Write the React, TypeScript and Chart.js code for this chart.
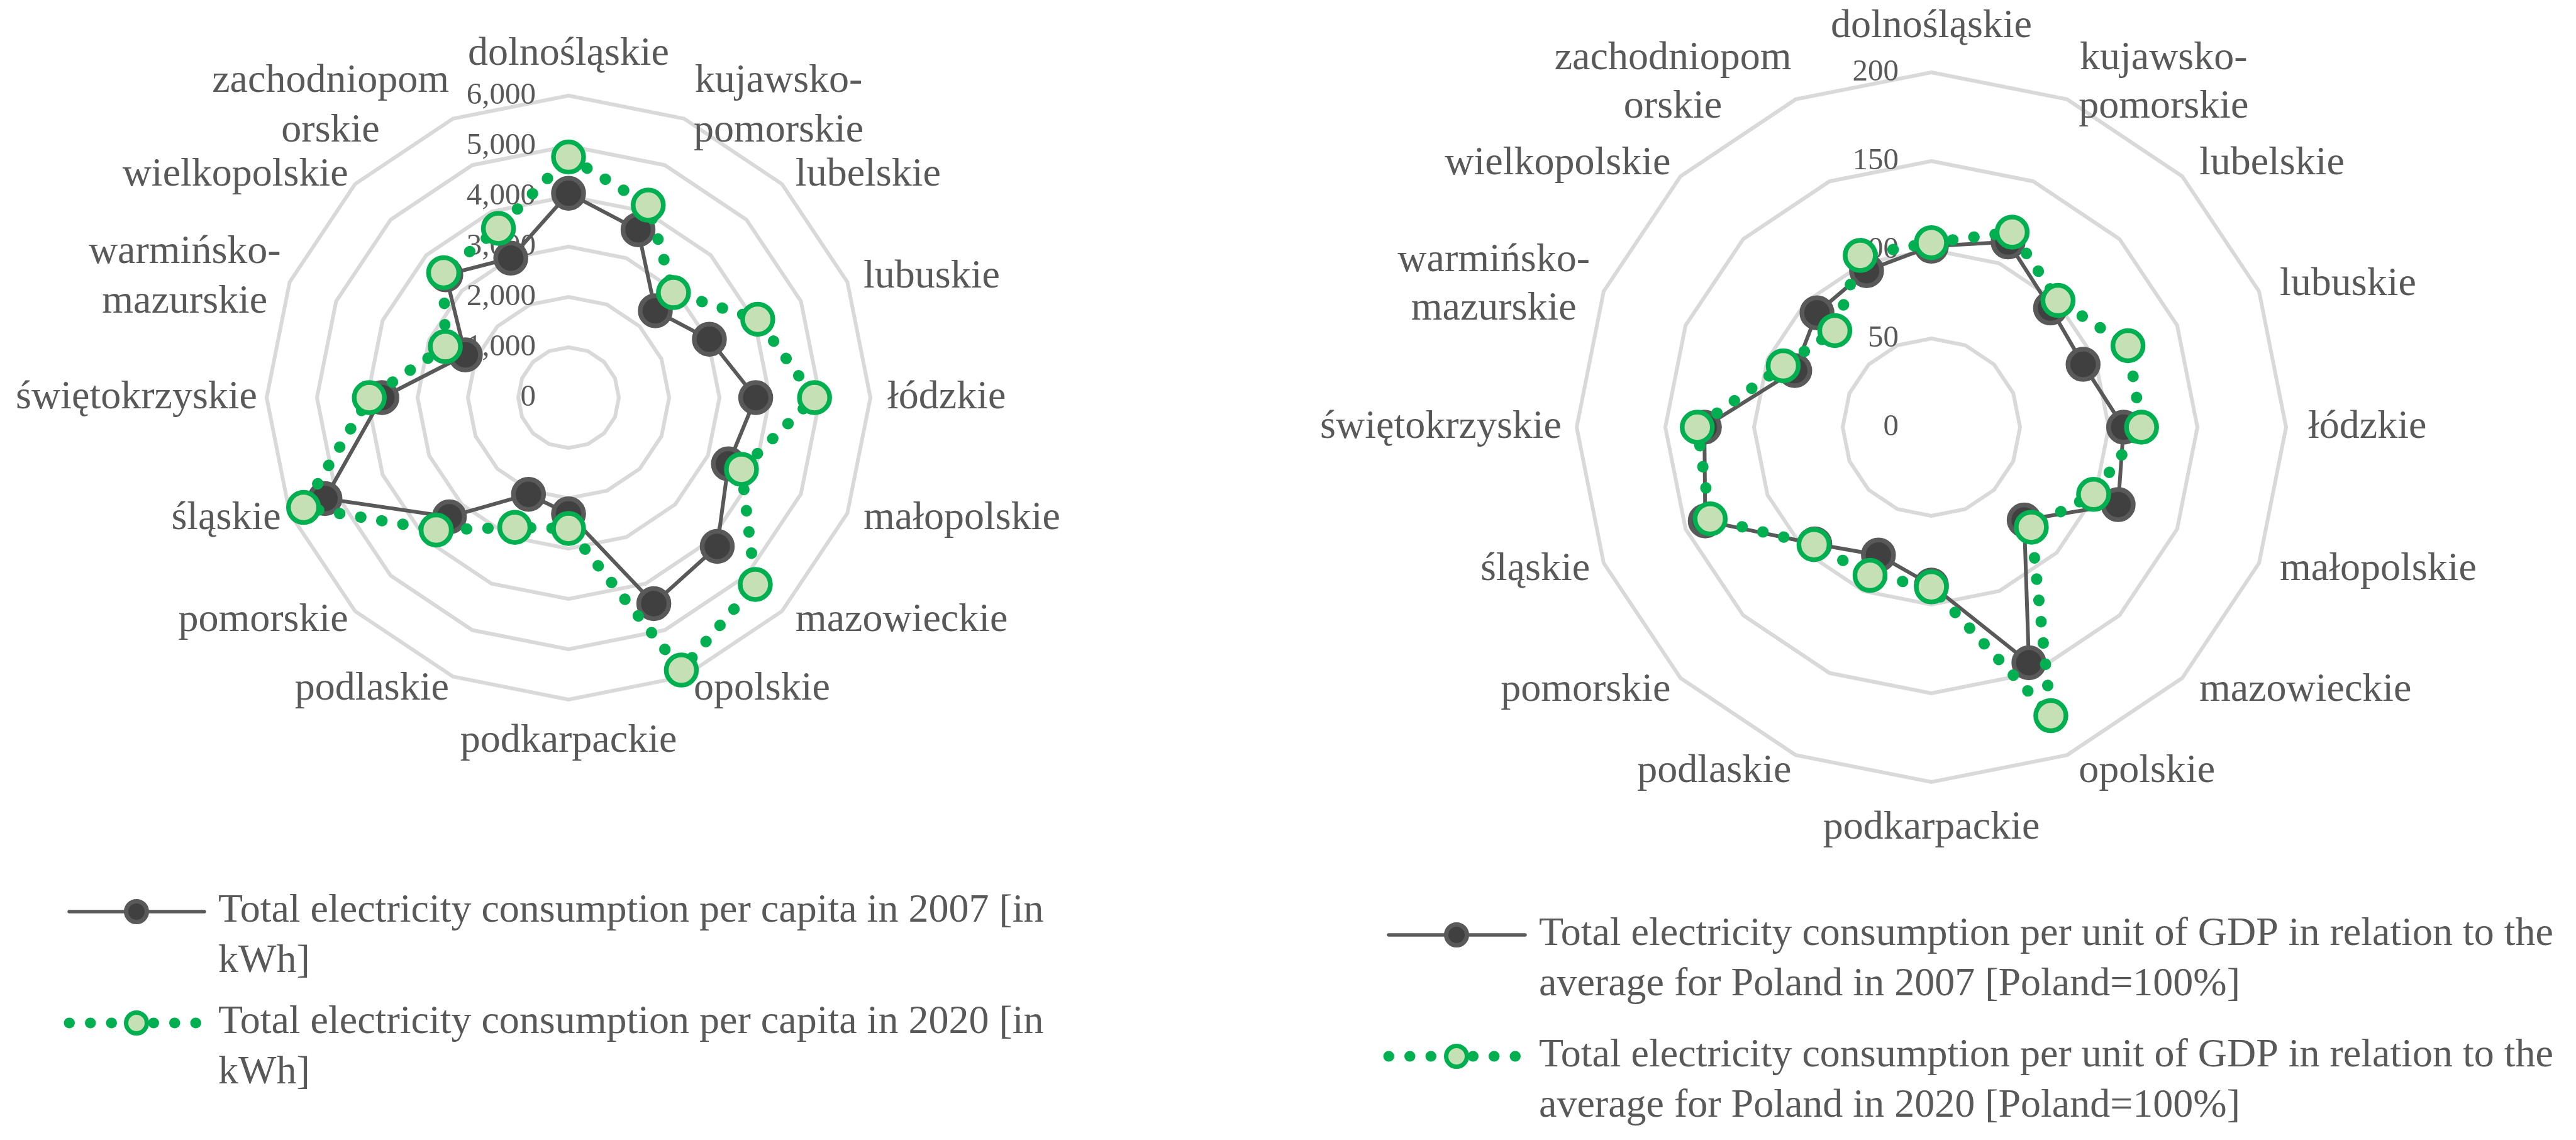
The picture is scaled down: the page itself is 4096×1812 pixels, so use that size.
import React, { useEffect, useRef } from 'react';
import { Chart, registerables } from 'chart.js';

Chart.register(...registerables);

// ---------------- DATA ----------------
const CATEGORIES: (string | string[])[] = [
  'dolnośląskie',
  ['kujawsko-', 'pomorskie'],
  'lubelskie',
  'lubuskie',
  'łódzkie',
  'małopolskie',
  'mazowieckie',
  'opolskie',
  'podkarpackie',
  'podlaskie',
  'pomorskie',
  'śląskie',
  'świętokrzyskie',
  ['warmińsko-', 'mazurskie'],
  'wielkopolskie',
  ['zachodniopom', 'orskie'],
];

// Total electricity consumption per capita [kWh]
const PER_CAPITA_2007 = [4060, 3610, 2440, 3030, 3720, 3440, 4180, 4430, 2310, 2080, 3350, 5240, 3710, 2220, 3450, 3000];
const PER_CAPITA_2020 = [4780, 4140, 2950, 4070, 4890, 3720, 5250, 5860, 2600, 2790, 3720, 5700, 3960, 2650, 3510, 3640];

// Total electricity consumption per unit of GDP [Poland = 100%]
const GDP_2007 = [102, 113, 95, 92.6, 108.4, 114, 74, 143.7, 89, 78, 93, 138, 128, 83.4, 91.2, 95.5];
const GDP_2020 = [104, 119, 101, 120, 118.5, 99, 79.7, 176, 90, 90.4, 93.6, 135, 132, 90.4, 77, 104.8];

const PER_CAPITA_MAX = 6000;
const PER_CAPITA_STEP = 1000;
const GDP_MAX = 200;
const GDP_STEP = 50;

const LEGEND_PER_CAPITA: string[][] = [
  ['Total electricity consumption per capita in 2007 [in', 'kWh]'],
  ['Total electricity consumption per capita in 2020 [in', 'kWh]'],
];
const LEGEND_GDP: string[][] = [
  ['Total electricity consumption per unit of GDP in relation to the', 'average for Poland in 2007 [Poland=100%]'],
  ['Total electricity consumption per unit of GDP in relation to the', 'average for Poland in 2020 [Poland=100%]'],
];

// ---------------- STYLE ----------------
const FONT = '"Liberation Serif", "Times New Roman", serif';
const TEXT = '#595959';
const GRID = '#d9d9d9';
const DARK_LINE = '#595959';
const DARK_FILL = '#404040';
const GREEN = '#00b050';
const GREEN_FILL = '#c5e0b4';

type Decor = {
  tickFont: number;
  tickDx: number;
  labelFont: number;
  labelLh: number;
  dxR0: number;
  dxR1: number;
  dxL0: number;
  dxL1: number;
  dy: number;
  offTB: number;
  legend: string[][];
  legendFont: number;
  legendLh: number;
  lineX0: number;
  lineX1: number;
  markerX: number;
  textX: number;
  baselines: number[];
};

function makeDecor(o: Decor) {
  return {
    id: 'decor',
    beforeDatasetsDraw(chart: any) {
      const scale: any = chart.scales.r;
      const ctx: CanvasRenderingContext2D = chart.ctx;
      ctx.save();
      ctx.fillStyle = TEXT;
      // value axis labels, left of the vertical axis
      ctx.font = `${o.tickFont}px ${FONT}`;
      ctx.textAlign = 'right';
      ctx.textBaseline = 'middle';
      scale.ticks.forEach((t: any) => {
        const d = scale.getDistanceFromCenterForValue(t.value);
        ctx.fillText(String(t.label), scale.xCenter - o.tickDx, scale.yCenter - d);
      });
      // category labels
      ctx.font = `${o.labelFont}px ${FONT}`;
      ctx.textAlign = 'center';
      const n = chart.data.labels.length;
      chart.data.labels.forEach((lab: any, i: number) => {
        const th = (i * 2 * Math.PI) / n;
        const s = Math.sin(th);
        const c = Math.cos(th);
        const v = scale.getPointPosition(i, scale.drawingArea);
        const lines: string[] = Array.isArray(lab) ? lab : [lab];
        const w = Math.max(...lines.map((l) => ctx.measureText(l).width));
        let cx: number;
        let cy: number;
        if (Math.abs(s) < 1e-6) {
          cx = v.x;
          cy = v.y - c * o.offTB;
        } else {
          cy = v.y - c * o.dy;
          if (s > 0) cx = v.x + o.dxR0 + o.dxR1 * s + w / 2;
          else cx = v.x - o.dxL0 - o.dxL1 * -s - w / 2;
        }
        lines.forEach((t, j) => {
          ctx.fillText(t, cx, cy + (j - (lines.length - 1) / 2) * o.labelLh);
        });
      });
      ctx.restore();
    },
    afterDraw(chart: any) {
      const ctx: CanvasRenderingContext2D = chart.ctx;
      ctx.save();
      o.legend.forEach((lines, k) => {
        const base = o.baselines[k];
        const my = base - 16;
        ctx.beginPath();
        ctx.moveTo(o.lineX0, my);
        ctx.lineTo(o.lineX1, my);
        if (k === 0) {
          ctx.setLineDash([]);
          ctx.lineCap = 'round';
          ctx.lineWidth = 5.5;
          ctx.strokeStyle = DARK_LINE;
        } else {
          ctx.setLineDash([0.5, 33]);
          ctx.lineCap = 'round';
          ctx.lineWidth = 17;
          ctx.strokeStyle = GREEN;
        }
        ctx.stroke();
        ctx.setLineDash([]);
        ctx.beginPath();
        ctx.arc(o.markerX, my, 16.5, 0, Math.PI * 2);
        ctx.fillStyle = k === 0 ? DARK_FILL : GREEN_FILL;
        ctx.fill();
        ctx.lineWidth = 7;
        ctx.strokeStyle = k === 0 ? DARK_LINE : GREEN;
        ctx.stroke();
        ctx.fillStyle = TEXT;
        ctx.font = `${o.legendFont}px ${FONT}`;
        ctx.textAlign = 'left';
        ctx.textBaseline = 'alphabetic';
        lines.forEach((t, j) => ctx.fillText(t, o.textX, base + j * o.legendLh));
      });
      ctx.restore();
    },
  };
}

function buildConfig(
  d2007: number[],
  d2020: number[],
  legend: string[][],
  max: number,
  step: number,
  padding: { left: number; top: number; right: number; bottom: number },
  decor: Decor
): any {
  return {
    type: 'radar',
    data: {
      labels: CATEGORIES,
      datasets: [
        {
          label: legend[0].join(' '),
          data: d2007,
          order: 1,
          fill: false,
          borderColor: DARK_LINE,
          borderWidth: 6,
          pointRadius: 24,
          pointBorderWidth: 7.5,
          pointBackgroundColor: DARK_FILL,
          pointBorderColor: DARK_LINE,
          tension: 0,
        },
        {
          label: legend[1].join(' '),
          data: d2020,
          order: 0,
          fill: false,
          borderColor: GREEN,
          borderWidth: 18,
          borderDash: [0.5, 33.5],
          borderCapStyle: 'round',
          pointRadius: 24,
          pointBorderWidth: 7.5,
          pointBackgroundColor: GREEN_FILL,
          pointBorderColor: GREEN,
          tension: 0,
        },
      ],
    },
    options: {
      animation: false,
      responsive: false,
      locale: 'en-US',
      events: [],
      layout: { padding },
      plugins: {
        legend: { display: false },
        tooltip: { enabled: false },
        title: { display: false },
      },
      scales: {
        r: {
          min: 0,
          max,
          beginAtZero: true,
          ticks: { display: false, stepSize: step },
          pointLabels: { display: false },
          angleLines: { display: false },
          grid: { circular: false, color: GRID, lineWidth: 6 },
        },
      },
    },
    plugins: [makeDecor(decor)],
  };
}

function RadarPanel({ left, config }: { left: number; config: () => any }) {
  const ref = useRef<HTMLCanvasElement>(null);
  useEffect(() => {
    const chart = new Chart(ref.current as HTMLCanvasElement, config());
    return () => chart.destroy();
  }, []);
  return (
    <canvas
      ref={ref}
      width={2048}
      height={1812}
      style={{ position: 'absolute', left, top: 0, width: 2048, height: 1812 }}
    />
  );
}

export default function App() {
  const leftConfig = () =>
    buildConfig(
      PER_CAPITA_2007,
      PER_CAPITA_2020,
      LEGEND_PER_CAPITA,
      PER_CAPITA_MAX,
      PER_CAPITA_STEP,
      { left: 424, top: 152, right: 664, bottom: 700 },
      {
        tickFont: 49,
        tickDx: 52,
        labelFont: 64,
        labelLh: 79,
        dxR0: 8,
        dxR1: 19,
        dxL0: 1,
        dxL1: 14,
        dy: 21,
        offTB: 66,
        legend: LEGEND_PER_CAPITA,
        legendFont: 64,
        legendLh: 80,
        lineX0: 110,
        lineX1: 325,
        markerX: 217,
        textX: 347,
        baselines: [1465, 1642],
      }
    );
  const rightConfig = () =>
    buildConfig(
      GDP_2007,
      GDP_2020,
      LEGEND_GDP,
      GDP_MAX,
      GDP_STEP,
      { left: 459, top: 115, right: 461, bottom: 569 },
      {
        tickFont: 49,
        tickDx: 52,
        labelFont: 64,
        labelLh: 77,
        dxR0: 8,
        dxR1: 27,
        dxL0: -4,
        dxL1: 28,
        dy: 28,
        offTB: 73,
        legend: LEGEND_GDP,
        legendFont: 64,
        legendLh: 80,
        lineX0: 160,
        lineX1: 377,
        markerX: 268,
        textX: 399,
        baselines: [1502, 1695],
      }
    );
  return (
    <div
      style={{
        position: 'absolute',
        left: 0,
        top: 0,
        width: 4096,
        height: 1812,
        background: '#ffffff',
        overflow: 'hidden',
      }}
    >
      <RadarPanel left={0} config={leftConfig} />
      <RadarPanel left={2048} config={rightConfig} />
    </div>
  );
}
